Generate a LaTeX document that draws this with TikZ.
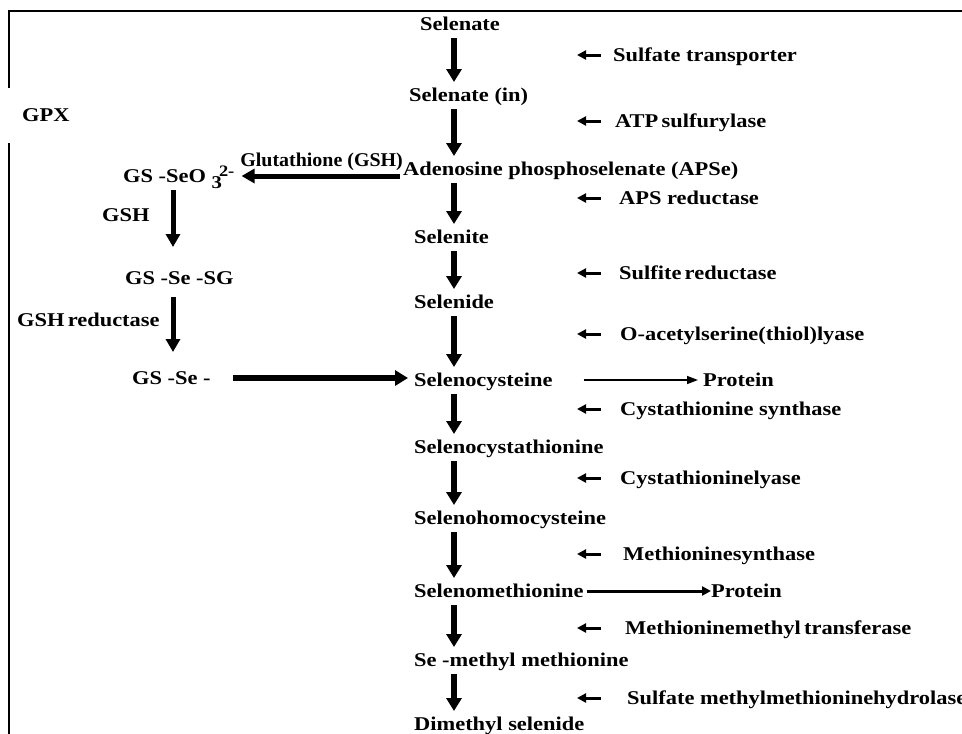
\documentclass[tikz,border=0pt]{standalone}
\usepackage{fontspec}
\setmainfont{Liberation Serif}[FakeStretch=1.15]
\usetikzlibrary{arrows.meta,calc}
\begin{document}
\begin{tikzpicture}[x=1pt,y=-1pt,
  lbl/.style={font=\bfseries\fontsize{19.5}{21}\selectfont, inner sep=0pt, text height=14pt, text depth=1pt, anchor=west},
  bigarr/.style={line width=6pt, -{Triangle[length=13pt,width=15pt]}},
  leftarr/.style={line width=5pt, -{Triangle[length=13pt,width=14pt]}},
  smallarr/.style={line width=3pt, -{Triangle[length=9pt,width=9pt]}},
  thinarr/.style={line width=1.5pt, -{Triangle[length=11pt,width=8pt]}},
  medarr/.style={line width=3pt, -{Triangle[length=9pt,width=9pt]}},
  frame/.style={line width=2pt}]
\useasboundingbox (0,0) rectangle (962,734);
% frame
\draw[frame] (9,88) -- (9,11) -- (962,11);
\draw[frame] (9,143) -- (9,734);
% guide coordinates
\coordinate (X) at (454,0);
\coordinate (L) at (173,0);
\coordinate (E1) at (601,0);
\coordinate (E2) at (577,0);
% main column
\node[lbl] (n1) at (420,24) {Selenate};
\node[lbl] (n2) at (409,95) {Selenate (in)};
\node[lbl] (n3) at (403,169) {Adenosine phosphoselenate (APSe)};
\node[lbl] (n4) at (414,237) {Selenite};
\node[lbl] (n5) at (414,302) {Selenide};
\node[lbl] (n6) at (414,380) {Selenocysteine};
\node[lbl] (n7) at (414,447) {Selenocystathionine};
\node[lbl] (n8) at (414,518) {Selenohomocysteine};
\node[lbl] (n9) at (414,591) {Selenomethionine};
\node[lbl] (n10) at (414,660) {Se -methyl methionine};
\node[lbl] (n11) at (414,724) {Dimethyl selenide};
% enzymes
\node[lbl] (e1) at (613,55) {Sulfate transporter};
\node[lbl] (e2) at (615,121) {ATP\,sulfurylase};
\node[lbl] (e3) at (619,198) {APS reductase};
\node[lbl] (e4) at (619,273) {Sulfite\,reductase};
\node[lbl] (e5) at (620,334) {O-acetylserine(thiol)lyase};
\node[lbl] (e6) at (620,409) {Cystathionine synthase};
\node[lbl] (e7) at (620,478) {Cystathioninelyase};
\node[lbl] (e8) at (623,554) {Methioninesynthase};
\node[lbl] (e9) at (625,628) {Methioninemethyl\,transferase};
\node[lbl] (e10) at (627,698) {Sulfate methylmethioninehydrolase};
% proteins
\node[lbl] (p1) at (703,380) {Protein};
\node[lbl] (p2) at (711,591) {Protein};
% left branch
\node[lbl] (gpx) at (22,115) {GPX};
\node[lbl, anchor=east] (glu) at (403,160) {\scalebox{0.89}[1]{Glutathione (GSH)}};
\node[lbl] (gsseo) at (123,176) {GS -SeO\ \raisebox{-6pt}{\fontsize{18}{18}\selectfont 3}\kern-3pt\raisebox{6pt}{\fontsize{16}{16}\selectfont 2-}};
\node[lbl] (gsh) at (102,215) {GSH};
\node[lbl] (gsssg) at (125,278) {GS -Se -SG};
\node[lbl] (gshred) at (17,320) {GSH\,reductase};
\node[lbl] (gsse) at (132,378) {GS -Se -};
% main arrows
\foreach \a/\b in {n1/n2,n2/n3,n3/n4,n4/n5,n5/n6,n6/n7,n7/n8,n8/n9,n9/n10,n10/n11}
  \draw[bigarr, shorten <=14pt, shorten >=13pt] (\a -| X) -- (\b -| X);
% enzyme arrows
\foreach \e in {e1,e2,e3,e4,e5,e6,e7,e8,e9,e10}
  \draw[smallarr] (\e -| E1) -- (\e -| E2);
% left branch arrows
\draw[leftarr, shorten <=3pt, shorten >=7pt] (n3.west |- gsseo) -- (gsseo.east);
\draw[leftarr, shorten <=14pt, shorten >=31pt] (gsseo -| L) -- (gsssg -| L);
\draw[leftarr, shorten <=19pt, shorten >=26pt] (gsssg -| L) -- (gsse -| L);
\draw[bigarr, shorten <=22pt, shorten >=6pt] (gsse.east) -- (n6.west |- gsse);
% protein arrows
\draw[thinarr, shorten <=31pt, shorten >=5pt] (n6.east) -- (p1.west);
\draw[medarr, shorten <=3pt] (n9.east) -- (p2.west);
\end{tikzpicture}
\end{document}
